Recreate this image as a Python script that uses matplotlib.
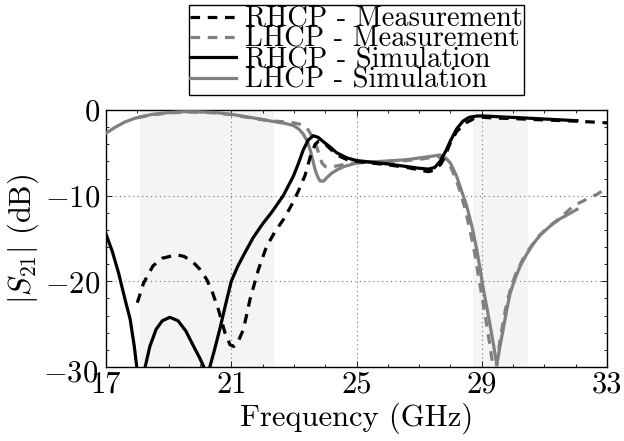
import matplotlib
matplotlib.use("Agg")
import matplotlib.pyplot as plt
from matplotlib.ticker import AutoMinorLocator
from matplotlib.transforms import ScaledTranslation

plt.rcParams['font.family'] = 'serif'
plt.rcParams['font.serif'] = ['cmr10', 'DejaVu Serif']
plt.rcParams['mathtext.fontset'] = 'cm'
plt.rcParams['axes.formatter.use_mathtext'] = True

# ---------------- data ----------------
rhcp_meas_f = [18.0, 18.2, 18.5, 18.8, 19.26, 19.5, 19.79, 20.0, 20.22, 20.4, 20.59, 20.8, 20.96,
               21.08, 21.2, 21.39, 21.6, 21.87, 22.13, 22.4, 22.7, 23.0, 23.2, 23.36, 23.52, 23.68,
               23.8, 23.95, 24.15, 24.4, 24.7, 25.0, 25.5, 26.0, 26.6, 27.0, 27.3, 27.5, 27.7, 27.85,
               28.0, 28.2, 28.5, 28.75, 29.0, 29.5, 30.0, 30.6, 31.3, 32.0, 32.5, 33.0]
rhcp_meas_db = [-22.5, -20.2, -18.2, -17.3, -16.9, -17.1, -17.8, -18.6, -19.8, -21.3, -23.3, -26.0, -27.4,
                -27.6, -27.2, -25.6, -22.1, -18.6, -15.9, -14.2, -12.6, -10.6, -9.0, -7.6, -5.5, -4.0,
                -3.6, -3.8, -4.5, -5.3, -5.8, -6.0, -6.2, -6.4, -6.7, -7.0, -7.2, -7.0, -6.3, -5.2,
                -3.8, -2.5, -1.5, -1.0, -0.85, -0.95, -1.0, -1.1, -1.2, -1.3, -1.4, -1.5]

rhcp_sim_f = [17.0, 17.2, 17.4, 17.6, 17.77, 17.9, 18.0, 18.1, 18.18, 18.25, 18.4, 18.6, 18.8, 19.04,
              19.3, 19.55, 19.8, 20.0, 20.16, 20.22, 20.3, 20.45, 20.64, 20.8, 21.0, 21.2, 21.4, 21.7,
              22.0, 22.3, 22.66, 22.98, 23.15, 23.3, 23.46, 23.62, 23.78, 23.94, 24.15, 24.37, 24.7,
              25.0, 25.5, 26.0, 26.6, 27.0, 27.3, 27.5, 27.67, 27.85, 28.0, 28.2, 28.4, 28.6, 28.85,
              29.1, 29.6, 30.2, 31.0, 31.5, 32.04]
rhcp_sim_db = [-14.5, -16.5, -19.0, -22.0, -24.4, -27.5, -30.5, -33.0, -31.5, -30.0, -27.6, -25.6, -24.6, -24.2,
               -24.6, -25.8, -27.6, -29.0, -30.3, -31.5, -30.2, -28.2, -25.5, -23.0, -20.0, -18.3, -16.9, -14.9,
               -13.3, -11.9, -10.0, -7.75, -6.2, -4.65, -3.5, -3.0, -3.2, -3.7, -4.3, -5.0, -5.6,
               -5.9, -6.1, -6.3, -6.6, -6.8, -6.9, -6.7, -6.0, -4.8, -3.6, -2.2, -1.3, -0.85, -0.7,
               -0.7, -0.8, -0.9, -1.05, -1.15, -1.25]

lhcp_meas_f = [18.0, 18.5, 19.0, 19.5, 20.0, 20.5, 21.0, 21.5, 22.0, 22.4, 22.77, 23.0, 23.3, 23.42,
               23.52, 23.62, 23.73, 23.82, 23.9, 24.0, 24.15, 24.4, 24.7, 25.0, 25.5, 26.0, 26.6, 27.0,
               27.3, 27.6, 27.8, 28.0, 28.2, 28.35, 28.5, 28.65, 28.78, 28.9, 29.0, 29.12, 29.25, 29.38,
               29.45, 29.5, 29.6, 29.7, 29.8, 29.95, 30.1, 30.3, 30.5, 30.8, 31.08, 31.5, 31.93, 32.3,
               32.7, 33.0]
lhcp_meas_db = [-0.9, -0.55, -0.35, -0.25, -0.25, -0.35, -0.55, -0.85, -1.15, -1.3, -1.4, -1.5, -1.75, -2.1,
                -2.7, -3.4, -4.3, -5.4, -6.2, -6.6, -6.7, -6.5, -6.3, -6.15, -6.1, -6.0, -5.9, -5.75,
                -5.6, -5.45, -5.7, -6.6, -8.3, -10.0, -12.0, -14.5, -16.8, -19.5, -21.6, -24.2, -27.2, -30.5,
                -31.0, -29.0, -26.5, -24.4, -22.5, -20.5, -19.0, -17.5, -16.3, -14.8, -13.8, -12.6, -11.2, -10.5,
                -9.8, -9.1]

lhcp_sim_f = [17.0, 17.3, 17.6, 17.9, 18.1, 18.5, 19.0, 19.5, 20.0, 20.5, 21.0, 21.5, 22.0, 22.35,
              22.7, 22.98, 23.15, 23.3, 23.42, 23.52, 23.6, 23.68, 23.76, 23.84, 23.95, 24.05, 24.2,
              24.37, 24.6, 25.0, 25.5, 26.0, 26.6, 27.0, 27.3, 27.67, 27.85, 28.0, 28.2, 28.35, 28.52,
              28.7, 28.84, 28.95, 29.05, 29.16, 29.27, 29.38, 29.48, 29.58, 29.69, 29.8, 29.9, 30.05,
              30.23, 30.44, 30.65, 30.87, 31.2, 31.5, 31.8, 32.04]
lhcp_sim_db = [-2.7, -2.0, -1.4, -1.0, -0.8, -0.5, -0.3, -0.2, -0.22, -0.3, -0.5, -0.8, -1.1, -1.35,
               -1.55, -1.8, -2.2, -2.8, -3.6, -4.65, -5.8, -7.0, -7.8, -8.3, -8.3, -7.9, -7.4,
               -7.0, -6.6, -6.2, -6.05, -5.95, -5.8, -5.6, -5.45, -5.25, -5.6, -6.2, -7.75, -9.4, -11.2,
               -13.8, -16.3, -18.6, -20.9, -23.0, -25.2, -27.5, -29.8, -27.6, -25.5, -23.3, -21.5, -19.8,
               -18.2, -16.8, -15.6, -14.6, -13.5, -12.7, -12.1, -11.6]

bands = [(18.09, 22.37), (28.71, 30.47)]
xticks = [17, 21, 25, 29, 33]
yticks = [-30, -20, -10, 0]
ytick_labels = [r'$-30$', r'$-20$', r'$-10$', r'$0$']
labels = ['RHCP - Measurement', 'LHCP - Measurement', 'RHCP - Simulation', 'LHCP - Simulation']

# ---------------- plot ----------------
fig = plt.figure(figsize=(6.24, 4.41), dpi=100)
ax = fig.add_axes([106/624, 1-367/441, (607-106)/624, (367-110)/441])

for a, b in bands:
    ax.axvspan(a, b, color='#f4f4f4', zorder=0, lw=0)

gray = '#808080'
lw = 2.3
dash = (0, (3.0, 2.4))
l1, = ax.plot(rhcp_meas_f, rhcp_meas_db, color='black', lw=lw, ls=dash, zorder=4)
l2, = ax.plot(lhcp_meas_f, lhcp_meas_db, color=gray, lw=lw, ls=dash, zorder=3)
l3, = ax.plot(rhcp_sim_f, rhcp_sim_db, color='black', lw=lw, zorder=4)
l4, = ax.plot(lhcp_sim_f, lhcp_sim_db, color=gray, lw=lw, zorder=3)

ax.set_xlim(17, 33)
ax.set_ylim(-30, 0)
ax.set_xticks(xticks)
ax.set_xticklabels([str(t) for t in xticks])
ax.set_yticks(yticks)
ax.set_yticklabels(ytick_labels)
ax.xaxis.set_minor_locator(AutoMinorLocator(4))
ax.yaxis.set_minor_locator(AutoMinorLocator(5))
ax.tick_params(which='both', direction='in', top=True, right=True, labelsize=22, width=0.6)
ax.tick_params(which='major', length=4)
ax.tick_params(axis='x', which='major', pad=3)
ax.tick_params(axis='y', which='major', pad=4)
ax.tick_params(which='minor', length=2)
ax.grid(True, which='major', color='0.45', lw=0.8, ls=(0, (1, 3)))
for s in ax.spines.values():
    s.set_linewidth(1.0)

# bottom y tick label sits slightly lower, as in the reference
lab = ax.get_yticklabels()[0]
lab.set_transform(lab.get_transform() + ScaledTranslation(-0.02, -0.04, fig.dpi_scale_trans))

ax.set_xlabel('Frequency (GHz)', fontsize=22, labelpad=3)
ax.set_ylabel(r'$|S_{21}|$ (dB)', fontsize=22, labelpad=2)

leg = fig.legend([l1, l2, l3, l4], labels, loc='lower left',
                 bbox_to_anchor=(189/624, 1-95/441), borderaxespad=0,
                 fontsize=20.5, handlelength=1.6, handletextpad=0.3,
                 borderpad=0.05, labelspacing=-0.21, fancybox=False,
                 framealpha=1, edgecolor='black')
leg.get_frame().set_linewidth(1.0)

fig.savefig('out.png', dpi=100)
